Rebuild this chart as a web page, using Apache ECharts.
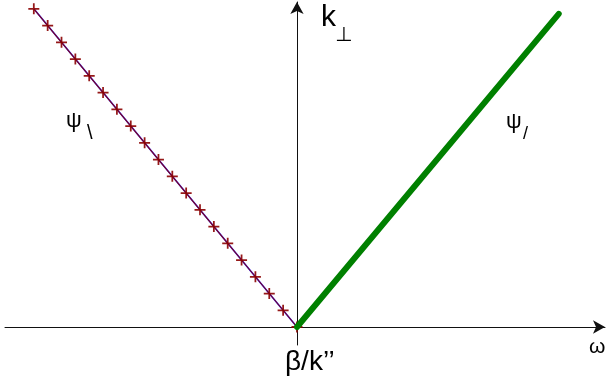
<!DOCTYPE html>
<html>
<head>
<meta charset="utf-8">
<script src="https://cdn.jsdelivr.net/npm/echarts@6/dist/echarts.min.js"></script>
<style>
  html, body { margin: 0; padding: 0; background: #fff; }
  #chart { width: 607px; height: 390px; }
</style>
</head>
<body>
<div id="chart"></div>
<script>
// Branch below the threshold: sampled points (ω, k⊥)
const omegaLeft = [-19, -18, -17, -16, -15, -14, -13, -12, -11, -10, -9, -8, -7, -6, -5, -4, -3, -2, -1, 0];
const kLeft     = [19, 18, 17, 16, 15, 14, 13, 12, 11, 10, 9, 8, 7, 6, 5, 4, 3, 2, 1, 0];

// Branch above the threshold: straight segment
const omegaRight = [0, 18.9];
const kRight     = [0, 18.7];

const axisColor = '#111';
const font = '"Liberation Sans", Arial, sans-serif';

const pairs = (xs, ys) => xs.map((x, i) => [x, ys[i]]);

const chart = echarts.init(document.getElementById('chart'), null, { renderer: 'canvas' });

// "+" marker built from two thin bars
const plus = 'path://M0,4.2h10v1.6h-10z M4.2,0h1.6v10h-1.6z';

// 13.85 px per ω unit, 16.74 px per k unit; origin sits at (297, 327)
chart.setOption({
  animation: false,
  backgroundColor: '#fff',
  grid: { left: 5, right: 2, top: 2, bottom: 45, containLabel: false },
  xAxis: {
    type: 'value',
    min: -21.08,
    max: 22.24,
    axisLine: {
      show: true, onZero: true,
      symbol: ['none', 'arrow'], symbolSize: [10, 12],
      lineStyle: { color: axisColor, width: 1 }
    },
    axisTick: { show: false },
    axisLabel: { show: false },
    splitLine: { show: false }
  },
  yAxis: {
    type: 'value',
    min: -1.075,
    max: 19.41,
    axisLine: {
      show: true, onZero: true,
      symbol: ['none', 'arrow'], symbolSize: [10, 12],
      lineStyle: { color: axisColor, width: 1 }
    },
    axisTick: { show: false },
    axisLabel: { show: false },
    splitLine: { show: false }
  },
  series: [
    {
      type: 'line',
      data: pairs(omegaLeft, kLeft),
      showSymbol: false,
      lineStyle: { color: '#2020ff', width: 1.6 },
      silent: true,
      z: 2
    },
    {
      type: 'line',
      data: pairs(omegaLeft, kLeft),
      symbol: plus,
      symbolSize: 11,
      showSymbol: true,
      itemStyle: { color: '#8b0000', opacity: 0.9 },
      lineStyle: { color: '#8b0000', width: 1.1, opacity: 0.9 },
      silent: true,
      z: 3
    },
    {
      type: 'line',
      data: pairs(omegaRight, kRight),
      showSymbol: false,
      lineStyle: { color: '#008000', width: 6, cap: 'round' },
      silent: true,
      z: 4
    }
  ],
  graphic: [
    { type: 'text', style: { text: 'k', x: 321, y: 3, font: '30px ' + font, fill: '#000' } },
    { type: 'text', style: { text: '⊥', x: 335, y: 26, font: '20px "DejaVu Sans", ' + font, fill: '#000' } },
    { type: 'text', style: { text: 'ω', x: 589, y: 337, font: '21px ' + font, fill: '#000' } },
    { type: 'text', style: { text: 'β/k’’', x: 285, y: 348, font: '28px ' + font, fill: '#000' } },
    { type: 'text', style: { text: 'ψ', x: 66, y: 110, font: '22px ' + font, fill: '#000' } },
    { type: 'text', style: { text: '\\', x: 87, y: 123, font: '20px ' + font, fill: '#000' } },
    { type: 'text', style: { text: 'ψ', x: 506, y: 111, font: '22px ' + font, fill: '#000' } },
    { type: 'text', style: { text: '/', x: 523, y: 125, font: '18px ' + font, fill: '#000' } }
  ]
});
</script>
</body>
</html>
